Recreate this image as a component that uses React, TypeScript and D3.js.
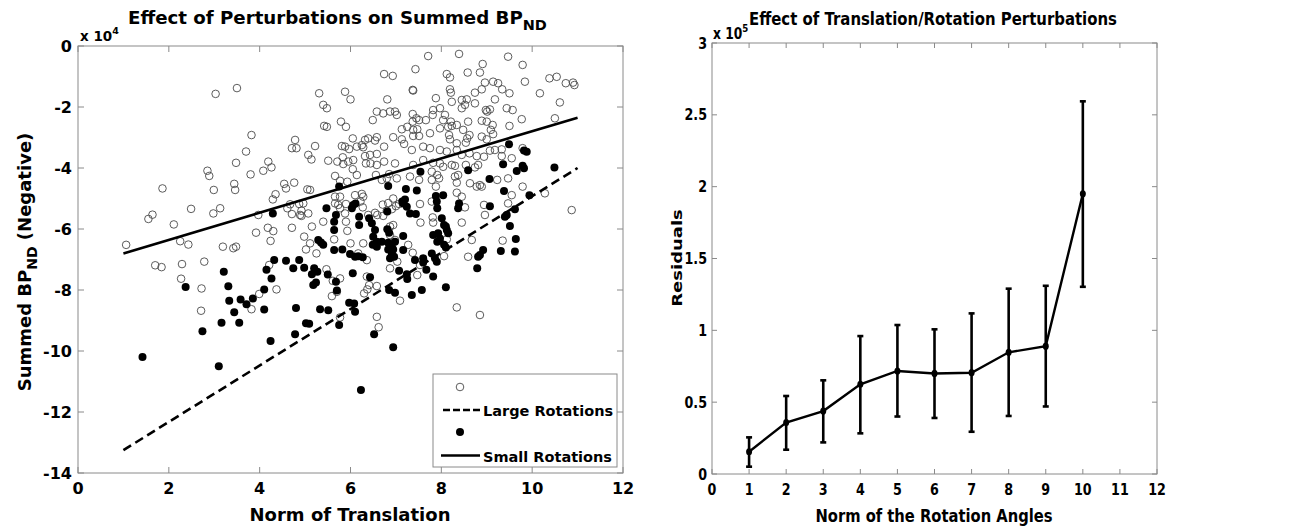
import * as d3 from 'd3';

const FONT = '"DejaVu Sans", Verdana, sans-serif';
const AXIS = '#8a8a8a';

// ---- left panel: summed BPnd vs translation norm (values in units of 1e4) ----
const transTicks = [0, 2, 4, 6, 8, 10, 12];
const bpTicks = [0, -2, -4, -6, -8, -10, -12, -14];
const fitX = [1, 11];
const smallFitY = [-6.8, -2.35];
const largeFitY = [-13.25, -4.0];

const openPts: [number, number][] = [
  [1.06, -6.52], [1.55, -5.67], [1.64, -5.53], [1.86, -4.67], [1.70, -7.19], [1.84, -7.25], [2.11, -5.85],
  [2.25, -6.40], [2.43, -6.51], [2.29, -7.15], [2.49, -5.34], [2.27, -7.63], [2.72, -7.95], [2.78, -7.07],
  [3.03, -1.57], [3.50, -1.38], [2.85, -4.09], [2.89, -4.26], [2.99, -4.72], [2.98, -5.49], [3.13, -5.32],
  [3.19, -6.58], [3.42, -6.63], [3.48, -6.58], [3.44, -4.52], [3.46, -4.72], [3.48, -3.83], [3.70, -3.46],
  [3.82, -2.92], [3.80, -4.21], [3.92, -6.12], [3.97, -5.54], [4.08, -4.09], [4.26, -3.98], [4.19, -3.79],
  [4.18, -5.96], [4.30, -6.07], [4.24, -6.39], [4.29, -5.03], [4.35, -4.86], [4.54, -4.52], [4.58, -4.67],
  [4.76, -4.48], [4.61, -5.32], [4.67, -5.19], [4.71, -3.35], [4.78, -3.08], [4.81, -3.35], [4.71, -5.51],
  [4.71, -5.96], [4.96, -5.16], [4.92, -5.40], [4.92, -5.57], [5.05, -4.70], [5.11, -4.72], [5.07, -3.57],
  [5.14, -3.72], [5.22, -3.28], [5.15, -5.92], [4.98, -6.25], [5.11, -6.47], [5.02, -6.67], [5.25, -6.80],
  [5.31, -1.55], [5.40, -1.93], [5.48, -2.04], [5.42, -2.62], [5.48, -2.65], [5.51, -3.76], [5.40, -5.76],
  [2.71, -8.68], [3.99, -8.13], [3.82, -8.63], [4.21, -7.18], [4.37, -7.98],
  [5.88, -1.50], [6.00, -1.75], [5.79, -2.48], [5.90, -2.65], [6.58, -2.15], [6.49, -2.43], [5.71, -3.79],
  [5.81, -3.28], [5.88, -3.30], [5.97, -3.38], [5.83, -3.65], [5.84, -3.87], [5.95, -3.79], [6.06, -3.74],
  [6.05, -3.03], [6.14, -3.30], [6.25, -3.25], [6.32, -3.08], [6.39, -3.03], [6.28, -3.32], [6.32, -3.61],
  [6.43, -3.57], [6.58, -3.54], [6.54, -3.10], [6.58, -2.99], [6.34, -3.85], [6.44, -3.85], [6.05, -4.04],
  [6.14, -4.23], [5.66, -4.26], [5.77, -4.42], [5.93, -4.45], [6.56, -4.23], [6.58, -3.90], [5.66, -4.94],
  [5.77, -4.94], [6.10, -4.89], [6.25, -4.85], [6.28, -4.94],
  [7.71, -0.33], [8.39, -0.26], [9.47, -0.35], [8.91, -0.59], [9.79, -0.62], [6.74, -0.92], [6.93, -0.98],
  [7.43, -0.76], [8.12, -0.92], [8.19, -1.03], [8.58, -0.87], [8.85, -0.87], [9.84, -1.17], [8.96, -1.20],
  [9.14, -1.17], [9.25, -1.22], [7.37, -1.44], [7.38, -1.46], [8.19, -1.42], [8.21, -1.53], [8.74, -1.53],
  [8.89, -1.42], [9.34, -1.42], [9.50, -1.55], [9.18, -1.75], [7.88, -1.71], [8.23, -1.83], [6.81, -1.75],
  [8.45, -1.77], [8.52, -1.93], [8.56, -1.75], [8.74, -1.88], [8.45, -2.04], [9.44, -2.04], [9.57, -2.10],
  [7.82, -2.10], [7.81, -2.26], [7.97, -2.04], [8.08, -2.26], [8.98, -2.10], [9.01, -2.15], [9.07, -2.08],
  [6.72, -2.21], [6.87, -2.15], [6.98, -2.15], [7.02, -2.26], [7.37, -2.23], [7.37, -2.48], [7.45, -2.37],
  [7.51, -2.43], [7.66, -2.43], [8.04, -2.43], [8.21, -2.48], [8.23, -2.62], [8.34, -2.59], [8.59, -2.48],
  [8.89, -2.45], [9.00, -2.48], [9.13, -2.59], [9.77, -2.40], [9.50, -2.62], [7.13, -2.73], [7.25, -2.65],
  [7.38, -2.75], [7.47, -2.73], [7.51, -2.95], [7.38, -2.95], [7.13, -3.06], [7.18, -3.21], [6.94, -2.99],
  [6.74, -3.30], [7.75, -2.86], [7.97, -2.70], [8.15, -2.65], [8.17, -2.92], [8.19, -3.06], [8.48, -2.75],
  [8.34, -3.19], [8.54, -3.17], [8.57, -3.03], [8.62, -2.92], [8.89, -2.97], [9.00, -3.06], [9.09, -2.75],
  [9.14, -2.89], [7.35, -3.41], [7.60, -3.30], [7.75, -3.35], [7.97, -3.41], [8.12, -3.46], [8.34, -3.41],
  [8.45, -3.57], [8.62, -3.52], [8.78, -3.61], [8.94, -3.63], [9.07, -3.43], [9.18, -3.41], [9.33, -3.61],
  [9.55, -3.68], [9.33, -3.39], [6.74, -3.79], [6.98, -3.85], [7.38, -3.90], [7.60, -3.74], [7.82, -3.83],
  [7.97, -3.85], [8.04, -3.96], [8.23, -3.90], [8.30, -3.93], [8.54, -3.90], [8.74, -3.98], [8.81, -3.90],
  [8.37, -4.23], [8.30, -4.28], [8.63, -4.50], [8.34, -4.48], [8.85, -4.56], [8.89, -4.61], [8.78, -4.61],
  [7.79, -4.12], [7.91, -4.23], [7.95, -4.34], [7.79, -4.39], [7.88, -4.61], [7.51, -4.39], [7.31, -4.28],
  [7.02, -4.34], [6.69, -4.39], [6.80, -4.34], [6.85, -4.20], [8.34, -4.81], [9.55, -4.89],
  [10.17, -1.55], [10.38, -1.06], [10.54, -1.01], [10.74, -1.22], [10.90, -1.20], [10.93, -1.28],
  [10.61, -1.85], [10.50, -2.37], [10.87, -5.38], [10.28, -4.83], [9.79, -4.61], [9.47, -4.34], [9.47, -5.16],
  [9.23, -4.39], [9.79, -3.35], [8.96, -5.54], [9.35, -6.38], [8.45, -4.94], [8.52, -5.29], [8.59, -6.91],
  [8.45, -5.79], [8.67, -6.36],
  [8.34, -8.57], [8.85, -8.82], [7.09, -8.35], [8.94, -5.21], [7.54, -5.79], [7.81, -5.62], [7.82, -5.79],
  [7.53, -5.18], [7.79, -5.10], [6.87, -5.92], [6.94, -5.87], [6.87, -6.20], [6.98, -6.36], [6.72, -5.57],
  [6.80, -5.40], [6.91, -5.35], [7.00, -5.25], [7.07, -5.18], [6.71, -5.20], [6.83, -5.15], [6.94, -5.00],
  [7.27, -6.52], [7.37, -6.78], [7.03, -7.07], [6.87, -7.29], [7.47, -7.51], [7.53, -7.18], [8.06, -6.89],
  [8.12, -6.34],
  [4.89, -5.54], [5.07, -5.49], [4.87, -5.18], [5.64, -6.34], [5.88, -5.49], [5.90, -5.76], [5.93, -6.06],
  [5.90, -5.18], [5.73, -5.21], [5.77, -5.32], [5.66, -5.16], [6.00, -6.47], [6.17, -6.80], [6.36, -7.02],
  [6.28, -6.47], [6.39, -5.54], [6.54, -5.47], [6.59, -5.54], [6.27, -5.29], [6.22, -5.10], [5.47, -7.32],
  [5.77, -7.62], [5.59, -8.20], [5.70, -8.06], [6.36, -7.56], [6.41, -7.84], [6.37, -7.98], [6.58, -7.87],
  [6.58, -8.88], [6.62, -9.22], [5.77, -8.90], [5.61, -7.70], [6.30, -8.11],
];

const filledPts: [number, number][] = [
  [1.42, -10.2], [2.37, -7.9], [2.74, -9.35], [3.10, -10.5], [3.16, -9.07], [3.21, -7.4], [3.31, -7.88],
  [3.33, -8.35], [3.44, -8.73], [3.55, -9.07], [3.58, -8.31], [3.71, -8.47], [3.85, -8.28], [4.10, -7.98],
  [4.10, -8.64], [4.24, -9.67], [4.15, -7.34], [4.26, -7.62], [4.32, -7.02], [4.58, -7.04], [4.74, -7.29],
  [4.87, -7.02], [4.98, -7.27], [4.80, -8.59], [4.78, -9.45], [5.02, -9.09], [5.09, -9.11], [5.20, -7.29],
  [5.15, -7.48], [5.18, -7.84], [5.24, -7.75], [5.27, -7.40], [5.33, -8.63], [5.51, -8.66], [5.50, -7.49],
  [5.68, -7.73], [5.70, -8.02], [4.29, -5.49], [5.47, -5.32], [5.35, -6.44], [5.40, -6.52], [5.29, -6.36],
  [5.68, -5.54], [5.64, -5.76], [5.64, -6.03], [6.06, -5.21], [6.11, -5.16], [6.03, -5.32], [6.19, -5.60],
  [6.19, -5.87], [6.41, -5.65], [6.47, -5.81], [6.54, -6.03], [6.50, -6.25], [6.58, -6.42], [6.49, -6.52],
  [6.58, -6.58], [5.64, -6.69], [5.82, -6.67], [5.99, -6.82], [6.10, -6.91], [6.17, -6.89], [6.27, -6.93],
  [6.05, -7.45], [6.43, -7.58], [5.75, -9.15], [5.97, -8.42], [6.08, -8.44], [6.10, -8.71], [6.52, -9.45],
  [6.23, -11.28], [6.94, -9.88], [7.16, -5.16], [7.24, -5.27], [7.31, -5.49], [7.44, -5.51], [7.14, -5.10],
  [6.81, -5.43], [7.90, -5.10], [7.91, -5.32], [8.01, -5.65], [8.06, -5.87], [8.12, -6.03], [8.15, -6.14],
  [8.10, -5.92], [8.39, -5.16], [8.37, -5.32], [9.07, -5.25], [9.62, -5.35], [9.44, -5.54], [9.40, -5.60],
  [9.51, -5.90], [9.64, -6.33], [9.31, -6.72], [9.62, -6.74], [6.81, -6.01], [6.85, -6.12], [7.16, -6.23],
  [6.83, -6.45], [6.69, -6.42], [7.82, -6.20], [7.93, -6.14], [7.97, -6.31], [7.91, -6.42], [8.06, -6.52],
  [8.10, -6.61], [6.83, -6.67], [6.94, -6.67], [6.91, -6.82], [6.96, -6.91], [6.87, -6.96], [7.16, -6.69],
  [7.79, -6.80], [7.86, -6.96], [7.90, -7.07], [7.60, -6.96], [7.60, -7.10], [7.42, -7.02], [7.67, -7.34],
  [7.82, -7.56], [8.92, -6.69], [8.85, -6.85], [8.81, -6.91], [8.79, -7.29], [7.07, -7.37], [7.24, -7.48],
  [7.25, -7.64], [6.85, -8.00], [6.98, -8.09], [7.35, -8.16], [7.57, -8.00], [8.10, -7.91], [9.49, -3.22],
  [9.88, -3.47], [9.82, -3.43], [9.79, -3.93], [9.82, -4.01], [9.66, -4.10], [10.49, -3.98], [9.36, -3.88],
  [8.59, -4.07], [9.06, -4.36], [9.38, -4.75], [9.94, -4.89], [7.54, -4.12], [6.83, -4.59], [7.22, -4.69],
  [7.46, -4.74], [7.20, -5.03], [7.88, -4.92], [8.04, -4.89], [5.75, -4.61], [6.91, -6.58], [6.98, -6.42],
];

// ---- right panel: residuals vs rotation norm (values in units of 1e5) ----
const angleTicks = [0, 1, 2, 3, 4, 5, 6, 7, 8, 9, 10, 11, 12];
const residTicks = [0, 0.5, 1, 1.5, 2, 2.5, 3];
const angles = [1, 2, 3, 4, 5, 6, 7, 8, 9, 10];
const residMean = [0.155, 0.358, 0.438, 0.624, 0.717, 0.70, 0.705, 0.847, 0.89, 1.95];
const residLow = [0.051, 0.169, 0.22, 0.283, 0.40, 0.39, 0.294, 0.404, 0.47, 1.303];
const residHigh = [0.255, 0.543, 0.652, 0.96, 1.037, 1.007, 1.118, 1.29, 1.31, 2.594];

const SQ = 0.82; // the right figure is squeezed horizontally

function Txt({ x, y, size, sx = 1, anchor = 'start', rot = 0, children }: any) {
  return (
    <text
      transform={`translate(${x},${y}) scale(${sx},1) rotate(${rot})`}
      fontSize={size}
      textAnchor={anchor}
      fontFamily={FONT}
      fontWeight="bold"
      fill="#000"
    >
      {children}
    </text>
  );
}

function Frame({ x, y, xt, yt, tick }: any) {
  const [x0, x1] = x.range();
  const [y0, y1] = y.range();
  return (
    <g stroke={AXIS} strokeWidth={1} fill="none">
      <rect x={x0} y={y1} width={x1 - x0} height={y0 - y1} />
      {xt.map((t: number) => (
        <g key={'x' + t}>
          <line x1={x(t)} x2={x(t)} y1={y0} y2={y0 - tick} />
          <line x1={x(t)} x2={x(t)} y1={y1} y2={y1 + tick} />
        </g>
      ))}
      {yt.map((t: number) => (
        <g key={'y' + t}>
          <line x1={x0} x2={x0 + tick} y1={y(t)} y2={y(t)} />
          <line x1={x1} x2={x1 - tick} y1={y(t)} y2={y(t)} />
        </g>
      ))}
    </g>
  );
}

function LeftPanel() {
  const x = d3.scaleLinear().domain([0, 12]).range([78, 623]);
  const y = d3.scaleLinear().domain([-14, 0]).range([473, 46]);
  const fit = (ys: number[]) =>
    d3.line<number>().x((_, i) => x(fitX[i])).y((v) => y(v))(ys) as string;
  return (
    <g>
      <Frame x={x} y={y} xt={transTicks} yt={bpTicks} tick={6} />
      {openPts.map(([a, b], i) => (
        <circle key={'o' + i} cx={x(a)} cy={y(b)} r={3.8} fill="none" stroke="#4a4a4a" strokeWidth={0.9} />
      ))}
      {filledPts.map(([a, b], i) => (
        <circle key={'f' + i} cx={x(a)} cy={y(b)} r={4} fill="#000" />
      ))}
      <path d={fit(smallFitY)} stroke="#000" strokeWidth={2.6} fill="none" />
      <path d={fit(largeFitY)} stroke="#000" strokeWidth={2.6} fill="none" strokeDasharray="9,5" />

      {transTicks.map((t) => (
        <Txt key={t} x={x(t)} y={494} size={16} anchor="middle">{t}</Txt>
      ))}
      {bpTicks.map((t) => (
        <Txt key={t} x={72} y={y(t) + 5.5} size={16} anchor="end">{t}</Txt>
      ))}
      <Txt x={80} y={41} size={13.5}>
        x 10<tspan fontSize={9.5} dy={-7}>4</tspan>
      </Txt>
      <Txt x={128} y={24} size={18.2}>
        Effect of Perturbations on Summed BP<tspan fontSize={14.5} dy={6}>ND</tspan>
      </Txt>
      <Txt x={350} y={521} size={18} anchor="middle">Norm of Translation</Txt>
      <Txt x={31} y={262} size={18} anchor="middle" rot={-90}>
        Summed BP<tspan fontSize={14} dy={6}>ND</tspan>
        <tspan dy={-6}>{'  (Negative)'}</tspan>
      </Txt>

      <g>
        <rect x={433} y={374} width={184} height={93} fill="#fff" stroke={AXIS} strokeWidth={1} />
        <circle cx={460} cy={387} r={3.8} fill="none" stroke="#4a4a4a" strokeWidth={0.9} />
        <line x1={443} x2={480} y1={410} y2={410} stroke="#000" strokeWidth={2.6} strokeDasharray="7,3" />
        <Txt x={483} y={416} size={14.5}>Large Rotations</Txt>
        <circle cx={460} cy={432} r={4} fill="#000" />
        <line x1={441} x2={480} y1={455.5} y2={455.5} stroke="#000" strokeWidth={2.6} />
        <Txt x={483} y={461.5} size={14.5}>Small Rotations</Txt>
      </g>
    </g>
  );
}

function RightPanel() {
  const x = d3.scaleLinear().domain([0, 12]).range([712, 1157]);
  const y = d3.scaleLinear().domain([0, 3]).range([474, 43]);
  const line = d3
    .line<number>()
    .x((_, i) => x(angles[i]))
    .y((v) => y(v));
  return (
    <g>
      <Frame x={x} y={y} xt={angleTicks} yt={residTicks} tick={5} />
      {angles.map((a, i) => (
        <g key={a} stroke="#000" strokeWidth={2.6}>
          <line x1={x(a)} x2={x(a)} y1={y(residLow[i])} y2={y(residHigh[i])} />
          <line x1={x(a) - 3} x2={x(a) + 3} y1={y(residLow[i])} y2={y(residLow[i])} />
          <line x1={x(a) - 3} x2={x(a) + 3} y1={y(residHigh[i])} y2={y(residHigh[i])} />
        </g>
      ))}
      <path d={line(residMean) as string} stroke="#000" strokeWidth={2.4} fill="none" />
      {angles.map((a, i) => (
        <ellipse key={'m' + a} cx={x(a)} cy={y(residMean[i])} rx={3} ry={3.6} fill="#000" />
      ))}

      {angleTicks.map((t) => (
        <Txt key={t} x={x(t)} y={495} size={15.5} sx={SQ} anchor="middle">{t}</Txt>
      ))}
      {residTicks.map((t) => (
        <Txt key={t} x={707} y={y(t) + 5.5} size={15.5} sx={SQ} anchor="end">{t}</Txt>
      ))}
      <Txt x={713} y={39} size={15} sx={SQ}>
        x 10<tspan fontSize={10.5} dy={-7}>5</tspan>
      </Txt>
      <Txt x={749} y={25} size={18.2} sx={SQ}>Effect of Translation/Rotation Perturbations</Txt>
      <Txt x={934} y={522} size={18} sx={SQ} anchor="middle">Norm of the Rotation Angles</Txt>
      <Txt x={682} y={258} size={18} sx={SQ} anchor="middle" rot={-90}>Residuals</Txt>
    </g>
  );
}

export default function App() {
  return (
    <div style={{ position: 'absolute', left: 0, top: 0 }}>
      <svg width={1292} height={527} style={{ display: 'block', background: '#fff' }}>
        <LeftPanel />
        <RightPanel />
      </svg>
    </div>
  );
}
